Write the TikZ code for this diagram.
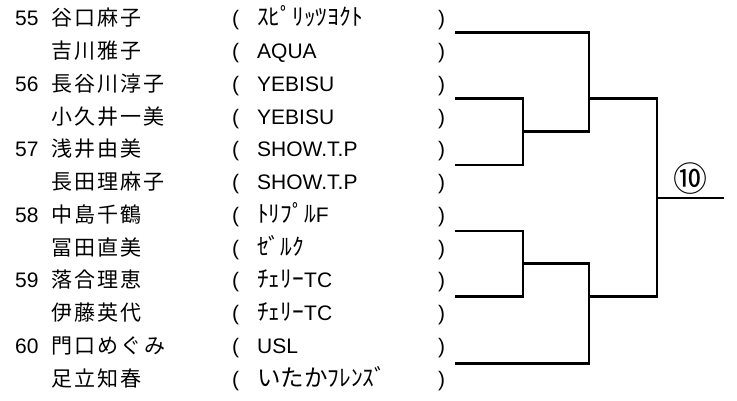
\documentclass[tikz,border=0pt]{standalone}
\usepackage{fontspec}
\setmainfont{Liberation Sans}
\newfontfamily\jpname[LetterSpace=10]{Noto Sans CJK JP}
\newfontfamily\kana{Noto Sans CJK JP}
\newfontfamily\circfont{Noto Sans CJK JP}
\newcommand{\hk}{\kana\fontsize{23.5}{25}\selectfont}
\tikzset{
  txt/.style={anchor=base west, inner sep=0pt, font=\fontsize{21}{25}\selectfont},
  nametxt/.style={txt, font=\fontsize{21}{25}\selectfont\jpname},
  bracket/.style={line width=2.7pt, line cap=rect},
}
\begin{document}
\begin{tikzpicture}[x=1pt,y=-1pt]
\useasboundingbox (0,0) rectangle (737,401);
\foreach \k/\n/\nm/\tm in {
 0/55/谷口麻子/{{\hk ｽﾋﾟﾘｯﾂﾖｸﾄ}},
 1//吉川雅子/AQUA,
 2/56/長谷川淳子/YEBISU,
 3//小久井一美/YEBISU,
 4/57/浅井由美/SHOW.T.P,
 5//長田理麻子/SHOW.T.P,
 6/58/中島千鶴/{{\hk ﾄﾘﾌﾟﾙ}F},
 7//冨田直美/{{\hk ｾﾞﾙｸ}},
 8/59/落合理恵/{{\hk ﾁｪﾘｰ}TC},
 9//伊藤英代/{{\hk ﾁｪﾘｰ}TC},
 10/60/門口めぐみ/USL,
 11//足立知春/{{\hk いたかﾌﾚﾝｽﾞ}}}
{
  \pgfmathsetmacro{\yb}{18+32.73*\k+8}
  \node[txt] (num\k) at (15,\yb) {\n};
  \node[nametxt] (name\k) at (51,\yb) {\nm};
  \node[txt] (lp\k) at (232,\yb) {(};
  \node[txt] (team\k) at (257,\yb) {\tm};
  \node[txt] (rp\k) at (438,\yb) {)};
}
% bracket coordinates
\coordinate (a1) at (456,32.3);
\coordinate (a2) at (456,98.3);
\coordinate (a3) at (456,165);
\coordinate (a4) at (456,231);
\coordinate (a5) at (456,296.7);
\coordinate (a6) at (456,363.3);
\coordinate (m1) at (523,131.7);
\coordinate (m2) at (523,263.8);
\coordinate (t1) at (589,98.3);
\coordinate (t2) at (589,296.7);
\coordinate (w) at (657,198);
\coordinate (fin) at (723,198);
\draw[bracket] (a2) -| (m1) |- (a3);
\draw[bracket] (m1) -- (m1 -| t1);
\draw[bracket] (a1) -| (m1 -| t1);
\draw[bracket] (t1) -- (t1 -| w);
\draw[bracket] (a4) -| (m2) |- (a5);
\draw[bracket] (m2) -- (m2 -| t2);
\draw[bracket] (a6) -| (m2 -| t2);
\draw[bracket] (t2) -- (t2 -| w);
\draw[bracket] (t1 -| w) -- (t2 -| w);
\draw[bracket] (w) -- (fin);
\node[inner sep=0pt, font=\fontsize{34}{36}\selectfont\circfont] (win) at (690,179) {⑩};
\end{tikzpicture}
\end{document}
